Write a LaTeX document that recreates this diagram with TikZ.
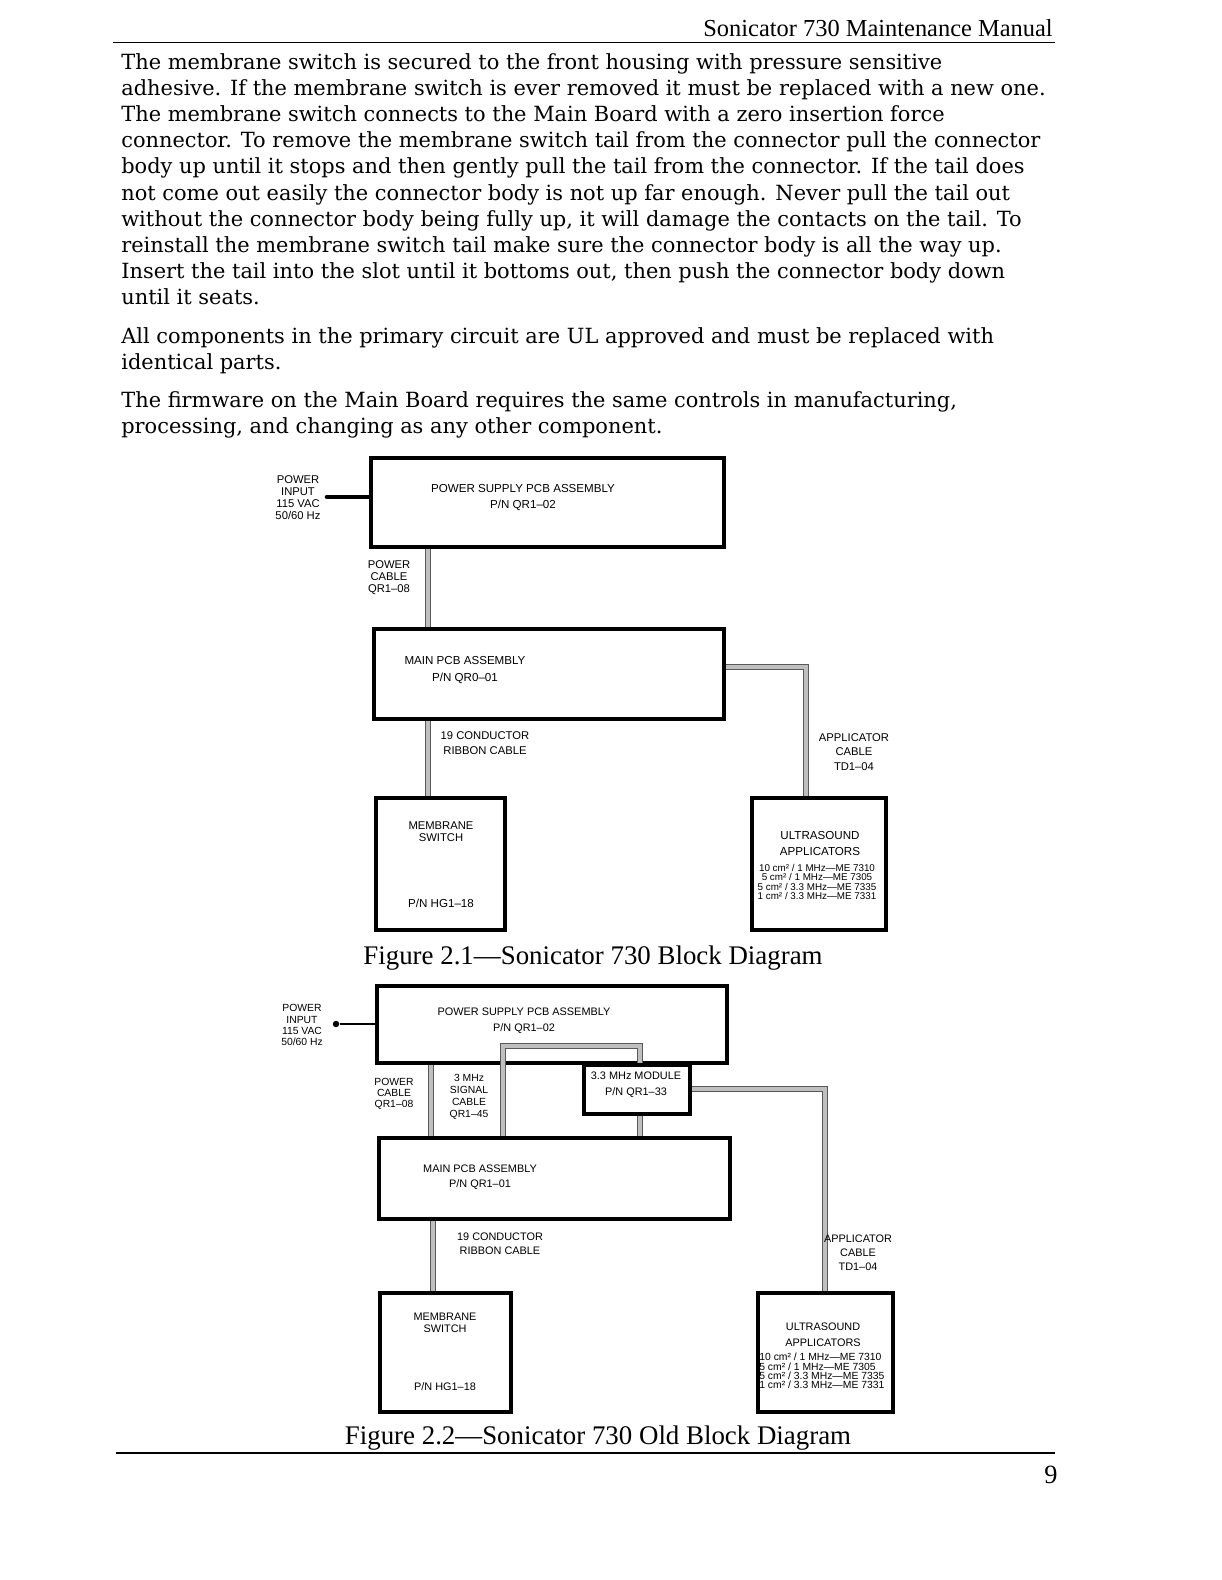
\documentclass[tikz,border=0pt]{standalone}
\usepackage{fontspec}
\setmainfont{DejaVu Serif}
\setsansfont{Liberation Sans}
\newfontfamily\capfont{Liberation Serif}

\tikzset{
  box/.style={draw, line width=2.1pt, inner sep=0pt, anchor=north west},
  cable/.style={draw=black!65, line width=0.55pt, double=black!25, double distance=2.2pt},
  mains/.style={line width=2.6pt, line cap=round},
  txt/.style={font=\sffamily\fontsize{6.6}{9.4}\selectfont, align=center, inner sep=0pt},
  tag/.style={font=\sffamily\fontsize{6.4}{6.8}\selectfont, align=center, inner sep=0pt},
  spec/.style={font=\sffamily\fontsize{5.6}{5.3}\selectfont, align=center, inner sep=0pt},
  body/.style={font=\fontsize{11.9}{14.85}\selectfont, anchor=base west, inner sep=0pt},
  figcap/.style={font=\capfont\fontsize{15.3}{16}\selectfont, anchor=base, inner sep=0pt}
}

\begin{document}
\begin{tikzpicture}[x=0.02cm, y=-0.02cm]
\useasboundingbox[fill=white] (0,0) rectangle (1222,1580);

% page head
\node[font=\capfont\fontsize{13.9}{14}\selectfont, anchor=base east, inner sep=0pt] (head) at (1053,36) {Sonicator 730 Maintenance Manual};
\coordinate (hl) at (113,42.5);
\coordinate (hr) at (1055,42.5);
\draw[line width=0.8pt] (hl) -- (hr);

% text
\foreach \y/\t [count=\i] in {
  69/{The membrane switch is secured to the front housing with pressure sensitive},
  95.2/{adhesive. If the membrane switch is ever removed it must be replaced with a new one.},
  121.4/{The membrane switch connects to the Main Board with a zero insertion force},
  147.6/{connector. To remove the membrane switch tail from the connector pull the connector},
  173.8/{body up until it stops and then gently pull the tail from the connector. If the tail does},
  200/{not come out easily the connector body is not up far enough. Never pull the tail out},
  226.2/{without the connector body being fully up, it will damage the contacts on the tail. To},
  252.4/{reinstall the membrane switch tail make sure the connector body is all the way up.},
  278.6/{Insert the tail into the slot until it bottoms out, then push the connector body down},
  304.8/{until it seats.},
  343/{All components in the primary circuit are UL approved and must be replaced with},
  369/{identical parts.},
  407/{The firmware on the Main Board requires the same controls in manufacturing,},
  433/{processing, and changing as any other component.}}
  \node[body] (l\i) at (121,\y) {\t};

% figure 2.1
\node[box, minimum width=7.06cm, minimum height=1.78cm] (ps1) at (369,456) {};
\node[txt] (ps1t) at (523,497.5) {POWER SUPPLY PCB ASSEMBLY\\P/N QR1–02};
\node[tag] (pin1) at (298,498) {POWER\\INPUT\\115 VAC\\50/60 Hz};
\coordinate (m1) at (327,497);
\draw[mains] (m1) -- (ps1.west |- m1);

\node[box, minimum width=7cm, minimum height=1.8cm] (main1) at (372,627) {};
\node[txt] (main1t) at (465,670) {MAIN PCB ASSEMBLY\\P/N QR0–01};
\node[box, minimum width=2.58cm, minimum height=2.64cm] (mem1) at (374,796) {};
\node[tag] (mem1t) at (441,832) {MEMBRANE\\SWITCH};
\node[txt] (mem1p) at (441,903) {P/N HG1–18};
\node[box, minimum width=2.68cm, minimum height=2.64cm] (us1) at (750,796) {};
\node[txt] (us1t) at (820,843.5) {ULTRASOUND\\APPLICATORS};
\node[spec] (us1s) at (817,882) {10 cm² / 1 MHz—ME 7310\\5 cm² / 1 MHz—ME 7305\\5 cm² / 3.3 MHz—ME 7335\\1 cm² / 3.3 MHz—ME 7331};

\coordinate (pc1) at (428,0);
\coordinate (ac1) at (806,667);
\draw[cable] (ps1.south -| pc1) -- (main1.north -| pc1);
\draw[cable] (main1.south -| pc1) -- (mem1.north -| pc1);
\draw[cable] (main1.east |- ac1) -- (ac1) -- (us1.north -| ac1);
\node[tag] (pcab1) at (389,578) {POWER\\CABLE\\QR1–08};
\node[tag, font=\sffamily\fontsize{6.4}{8.5}\selectfont] (rib1) at (485,743.5) {19 CONDUCTOR\\RIBBON CABLE};
\node[tag, font=\sffamily\fontsize{6.4}{8.2}\selectfont] (app1) at (854,752) {APPLICATOR\\CABLE\\TD1–04};

\node[figcap] (cap1) at (593,964) {Figure 2.1—Sonicator 730 Block Diagram};

% figure 2.2
\node[box, minimum width=7cm, minimum height=1.54cm] (ps2) at (375,984) {};
\node[txt, font=\sffamily\fontsize{6.2}{9}\selectfont] (ps2t) at (524,1021) {POWER SUPPLY PCB ASSEMBLY\\P/N QR1–02};
\node[tag, font=\sffamily\fontsize{5.9}{6.3}\selectfont] (pin2) at (302,1025) {POWER\\INPUT\\115 VAC\\50/60 Hz};
\node[circle, fill, inner sep=1.3pt] (m2) at (336,1024) {};
\draw[line width=1.1pt] (m2) -- (ps2.west |- m2);

\node[box, minimum width=2.12cm, minimum height=0.98cm] (mod2) at (582,1063) {};
\node[txt, font=\sffamily\fontsize{6.2}{9.4}\selectfont] (mod2t) at (636,1084.5) {3.3 MHz MODULE\\P/N QR1–33};
\node[box, minimum width=7.02cm, minimum height=1.62cm] (main2) at (377,1136) {};
\node[txt, font=\sffamily\fontsize{6.2}{8.5}\selectfont] (main2t) at (480,1177.5) {MAIN PCB ASSEMBLY\\P/N QR1–01};
\node[box, minimum width=2.62cm, minimum height=2.38cm] (mem2) at (378,1291) {};
\node[tag, font=\sffamily\fontsize{6.2}{6.8}\selectfont] (mem2t) at (445,1323) {MEMBRANE\\SWITCH};
\node[txt, font=\sffamily\fontsize{6.2}{8}\selectfont] (mem2p) at (445,1387) {P/N HG1–18};
\node[box, minimum width=2.7cm, minimum height=2.38cm] (us2) at (756,1291) {};
\node[txt, font=\sffamily\fontsize{6.2}{9}\selectfont] (us2t) at (823,1335) {ULTRASOUND\\APPLICATORS};
\node[spec, font=\sffamily\fontsize{5.9}{5.3}\selectfont, align=left, anchor=west] (us2s) at (759,1371) {10 cm² / 1 MHz—ME 7310\\5 cm² / 1 MHz—ME 7305\\5 cm² / 3.3 MHz—ME 7335\\1 cm² / 3.3 MHz—ME 7331};

\coordinate (pc2) at (431,0);
\coordinate (sc2) at (503,1046);
\coordinate (mc2) at (640,1046);
\coordinate (rc2) at (433,0);
\draw[cable] (ps2.south -| pc2) -- (main2.north -| pc2);
\draw[cable] (main2.north -| sc2) -- (sc2) -- (mc2) -- (mod2.north -| mc2);
\draw[cable] (mod2.south -| mc2) -- (main2.north -| mc2);
\draw[cable] (mod2.east) -| (us2.north);
\draw[cable] (main2.south -| rc2) -- (mem2.north -| rc2);
\node[tag, font=\sffamily\fontsize{5.9}{6.3}\selectfont] (pcab2) at (394,1094) {POWER\\CABLE\\QR1–08};
\node[tag, font=\sffamily\fontsize{5.9}{6.8}\selectfont] (sig2) at (469,1097) {3 MHz\\SIGNAL\\CABLE\\QR1–45};
\node[tag, font=\sffamily\fontsize{6.2}{8}\selectfont] (rib2) at (500,1244) {19 CONDUCTOR\\RIBBON CABLE};
\node[tag, font=\sffamily\fontsize{6.2}{8}\selectfont] (app2) at (858,1253) {APPLICATOR\\CABLE\\TD1–04};

\node[figcap] (cap2) at (598,1444) {Figure 2.2—Sonicator 730 Old Block Diagram};

% page foot
\coordinate (fl) at (116,1453);
\coordinate (fr) at (1055,1453);
\draw[line width=0.8pt] (fl) -- (fr);
\node[font=\capfont\fontsize{15}{16}\selectfont, anchor=base east, inner sep=0pt] (pg) at (1058,1483) {9};
\end{tikzpicture}
\end{document}
